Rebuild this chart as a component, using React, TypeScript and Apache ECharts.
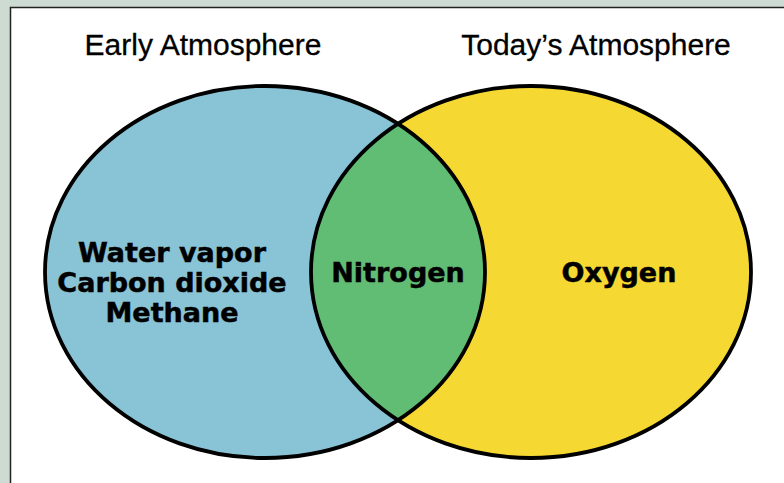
import React, { useEffect, useRef } from "react";
import * as echarts from "echarts";

const setTitles = ["Early Atmosphere", "Today\u2019s Atmosphere"];
const earlyOnly = ["Water vapor", "Carbon dioxide", "Methane"];
const shared = ["Nitrogen"];
const todayOnly = ["Oxygen"];
const setColors = ["#89c3d6", "#f5d932"];
const overlapColor = "#62bd74";

export default function App() {
  const ref = useRef<HTMLDivElement>(null);
  useEffect(() => {
    document.body.style.margin = "0";
    const chart = echarts.init(ref.current!, null, { renderer: "svg" });

    const cy = 272;
    const rx = 220;
    const ry = 186;
    const cxL = 265;
    const cxR = 531;
    const mx = (cxL + cxR) / 2;
    const dx = mx - cxL;
    const dy = ry * Math.sqrt(1 - (dx / rx) * (dx / rx));
    const yTop = cy - dy;
    const yBot = cy + dy;
    const lens = `M ${mx} ${yTop} A ${rx} ${ry} 0 0 0 ${mx} ${yBot} A ${rx} ${ry} 0 0 0 ${mx} ${yTop} Z`;
    echarts.graphic.registerShape("lens", echarts.graphic.extendPath(lens, {}));

    const boldText = (text: string, x: number, y: number) => ({
      type: "text",
      x,
      y,
      style: {
        text,
        fill: "#000",
        font: "bold 27px 'DejaVu Sans'",
        align: "center",
        verticalAlign: "middle",
        stroke: "#000",
        lineWidth: 0.5,
      },
    });

    const lineGap = 30;
    const earlyStart = cy - ((earlyOnly.length - 1) * lineGap) / 2 + 10;

    chart.setOption({
      animation: false,
      backgroundColor: "#cddbd2",
      graphic: [
        {
          type: "rect",
          shape: { x: 10.5, y: 7.5, width: 800, height: 500 },
          style: { fill: "#fff", stroke: "#222", lineWidth: 1.5 },
        },
        {
          type: "ellipse",
          shape: { cx: cxL, cy, rx, ry },
          style: { fill: setColors[0] },
        },
        {
          type: "ellipse",
          shape: { cx: cxR, cy, rx, ry },
          style: { fill: setColors[1] },
        },
        {
          type: "lens",
          x: 0,
          y: 0,
          style: { fill: overlapColor },
        },
        {
          type: "ellipse",
          shape: { cx: cxL, cy, rx, ry },
          style: { fill: "none", stroke: "#000", lineWidth: 3.8 },
        },
        {
          type: "ellipse",
          shape: { cx: cxR, cy, rx, ry },
          style: { fill: "none", stroke: "#000", lineWidth: 3.8 },
        },
        {
          type: "text",
          x: 203,
          y: 44,
          style: {
            text: setTitles[0],
            fill: "#000",
            font: "30px 'Liberation Sans'",
            align: "center",
            verticalAlign: "middle",
            stroke: "#000",
            lineWidth: 0.3,
          },
        },
        {
          type: "text",
          x: 596,
          y: 44,
          style: {
            text: setTitles[1],
            fill: "#000",
            font: "30px 'Liberation Sans'",
            align: "center",
            verticalAlign: "middle",
            stroke: "#000",
            lineWidth: 0.3,
          },
        },
        ...earlyOnly.map((t, i) => boldText(t, 172, earlyStart + i * lineGap)),
        ...shared.map((t) => boldText(t, mx, cy)),
        ...todayOnly.map((t) => boldText(t, 619, cy)),
      ],
    });
    return () => chart.dispose();
  }, []);
  return <div ref={ref} style={{ width: 784, height: 483 }} />;
}
